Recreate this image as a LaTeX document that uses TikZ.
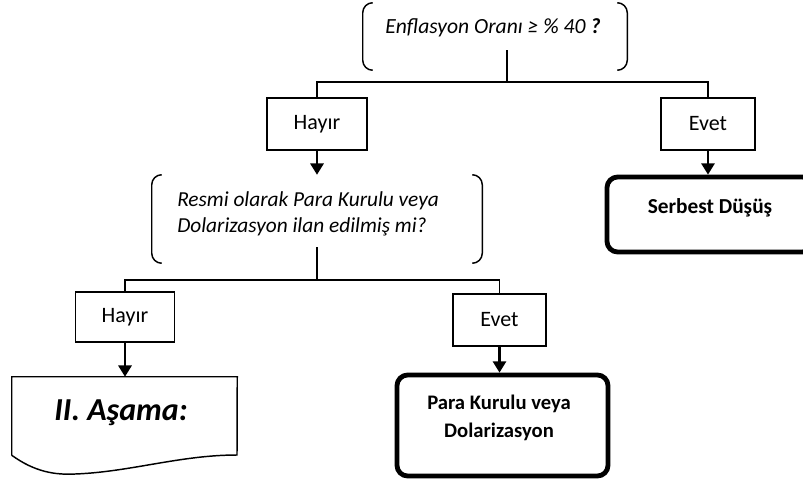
\documentclass[tikz,border=0pt]{standalone}
\usepackage{fontspec}
\setmainfont{Carlito}
\usetikzlibrary{arrows.meta}
\begin{document}
\begin{tikzpicture}[x=0.75pt,y=-0.75pt,
  conn/.style={line width=1.1pt},
  arr/.style={line width=1.6pt,-{Triangle[length=8.5pt,width=10pt]}},
  choice/.style={draw,line width=1.1pt,rectangle,inner sep=0pt,font=\fontsize{16.5}{19}\selectfont},
  hold/.style={rectangle,inner sep=0pt},
  result/.style={draw,line width=3.6pt,rectangle,rounded corners=8pt,inner sep=0pt},
  qtext/.style={inner sep=0pt,font=\fontsize{16.2}{16}\itshape},
  rtext/.style={inner sep=0pt,align=center,font=\fontsize{16}{16}\bfseries},
  brk/.style={conn,rounded corners=7.5pt}
]
\useasboundingbox (0,0) rectangle (803,479);
\clip (0,0) rectangle (803,479);

% first question
\node[hold,minimum width=264*0.75pt,minimum height=67*0.75pt] (q1) at (495,36.5) {};
\node[qtext] (q1t) at (493,28) {Enflasyon Oranı ≥ \% 40 \textbf{?}};
\draw[brk] ([xshift=7.5pt]q1.north west) -- (q1.north west) -- (q1.south west) -- ([xshift=7.5pt]q1.south west);
\draw[brk] ([xshift=-7.5pt]q1.north east) -- (q1.north east) -- (q1.south east) -- ([xshift=-7.5pt]q1.south east);
\coordinate (s1) at (507,50);
\coordinate (j1) at (507,82);

% first level answers
\node[choice,minimum width=100*0.75pt,minimum height=52*0.75pt] (h1) at (317,124) {Hayır};
\node[choice,minimum width=94*0.75pt,minimum height=52*0.75pt] (e1) at (708,124) {Evet};
\draw[conn] (s1) -- (j1);
\draw[conn] (j1) -| (h1.north);
\draw[conn] (j1) -| (e1.north);

% Serbest Dusus
\node[result,minimum width=206*0.75pt,minimum height=75*0.75pt] (sd) at (710,214.5) {};
\node[rtext] (sdt) at (710,208) {Serbest Düşüş};
\draw[arr] (e1.south) -- (e1.south |- sd.north);

% second question
\node[hold,minimum width=330*0.75pt,minimum height=88*0.75pt] (q2) at (317,219) {};
\node[qtext,align=left,anchor=west,font=\fontsize{16}{20}\itshape] (q2t) at (177,214) {Resmi olarak Para Kurulu veya\\Dolarizasyon ilan edilmiş mi?};
\draw[brk] ([xshift=7.5pt]q2.north west) -- (q2.north west) -- (q2.south west) -- ([xshift=7.5pt]q2.south west);
\draw[brk] ([xshift=-7.5pt]q2.north east) -- (q2.north east) -- (q2.south east) -- ([xshift=-7.5pt]q2.south east);
\draw[arr] (h1.south) -- (q2.north);
\coordinate (s2) at (317,247);
\coordinate (j2) at (317,280);

% second level answers
\node[choice,minimum width=99*0.75pt,minimum height=50*0.75pt] (h2) at (125,317) {Hayır};
\node[choice,minimum width=93*0.75pt,minimum height=52*0.75pt] (e2) at (499.5,320) {Evet};
\draw[conn] (s2) -- (j2);
\draw[conn] (j2) -| (h2.north);
\draw[conn] (j2) -| (e2.north);

% II. Asama document
\node[hold,minimum width=225*0.75pt,minimum height=78*0.75pt] (doc) at (124.5,416) {};
\node[inner sep=0pt,font=\fontsize{24}{24}\bfseries\itshape] (doct) at (121,413) {II. Aşama:};
\draw[conn] (doc.south west) -- (doc.north west) -- (doc.north east) -- (237,455)
  .. controls (180,455) and (130,472) .. (75,474)
  .. controls (55,475) and (35,472) .. (doc.south west);
\draw[arr] (h2.south) -- (h2.south |- doc.north);

% Para Kurulu
\node[result,minimum width=211*0.75pt,minimum height=101*0.75pt] (pk) at (502.5,425.5) {};
\node[rtext,font=\fontsize{15.5}{21}\bfseries] (pkt) at (499,418) {Para Kurulu veya\\Dolarizasyon};
\draw[arr] (e2.south) -- (e2.south |- pk.north);
\end{tikzpicture}
\end{document}
